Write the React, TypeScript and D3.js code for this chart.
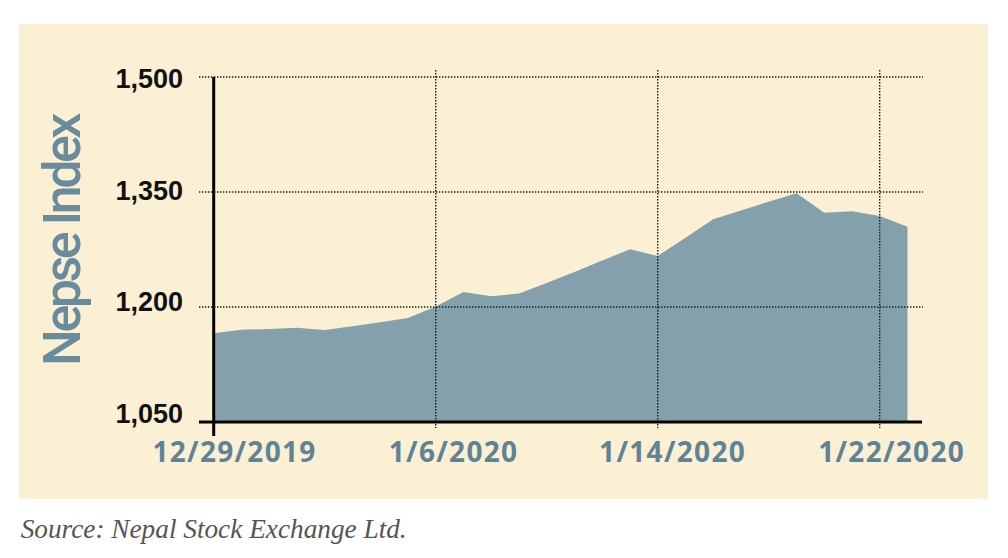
import React from "react";
import * as d3 from "d3";

const dates: string[] = [
  "2019-12-29", "2019-12-30", "2019-12-31", "2020-01-01", "2020-01-02", "2020-01-03",
  "2020-01-04", "2020-01-05", "2020-01-06", "2020-01-07", "2020-01-08", "2020-01-09",
  "2020-01-10", "2020-01-11", "2020-01-12", "2020-01-13", "2020-01-14", "2020-01-15",
  "2020-01-16", "2020-01-17", "2020-01-18", "2020-01-19", "2020-01-20", "2020-01-21",
  "2020-01-22", "2020-01-23",
];
const nepse: number[] = [
  1165.7, 1170.4, 1171.3, 1172.9, 1170.0, 1174.8,
  1180.0, 1185.7, 1200.7, 1219.6, 1214.0, 1217.6,
  1231.3, 1245.7, 1260.7, 1275.3, 1266.5, 1290.3,
  1314.4, 1325.9, 1337.3, 1348.3, 1323.0, 1324.8,
  1318.7, 1304.7,
];
const yTicks: number[] = [1050, 1200, 1350, 1500];
const xTickDates: string[] = ["2019-12-29", "2020-01-06", "2020-01-14", "2020-01-22"];
const xTickLabels: string[] = ["12/29/2019", "1/6/2020", "1/14/2020", "1/22/2020"];

const parse = d3.utcParse("%Y-%m-%d");

export default function App() {
  const W = 1008, H = 558;
  const d0 = parse(xTickDates[0])!;
  const d1 = parse(xTickDates[3])!;
  const x = d3.scaleUtc().domain([d0, d1]).range([213.7, 879.7]);
  const xLab = d3.scaleUtc().domain([d0, d1]).range([234.5, 891.6]);
  const y = d3.scaleLinear().domain([1050, 1500]).range([422, 77]);
  const yLab = d3.scaleLinear().domain([1050, 1500]).range([422.7, 88.3]);

  const data = dates.map((d, i) => ({ date: parse(d)!, v: nepse[i] }));
  const area = d3
    .area<{ date: Date; v: number }>()
    .x((d) => x(d.date))
    .y0(y(1050))
    .y1((d) => y(d.v))(data);

  const gridColor = "#1a1a1a";
  const labelBlue = "#5f8396";

  return (
    <svg
      width={W}
      height={H}
      style={{ position: "absolute", left: 0, top: 0 }}
      xmlns="http://www.w3.org/2000/svg"
    >
      <rect x={0} y={0} width={W} height={H} fill="#ffffff" />
      <rect x={19} y={24} width={969} height={475} fill="#fbf0d3" />

      <path d={area || ""} fill="#84a0ad" />

      {yTicks.slice(1).map((t) => (
        <line
          key={"h" + t}
          x1={199}
          x2={923}
          y1={y(t)}
          y2={y(t)}
          stroke={gridColor}
          strokeWidth={1.4}
          strokeDasharray="1.4 1.6"
        />
      ))}
      {xTickDates.slice(1).map((t) => (
        <line
          key={"v" + t}
          x1={x(parse(t)!)}
          x2={x(parse(t)!)}
          y1={70}
          y2={428}
          stroke={gridColor}
          strokeWidth={1.4}
          strokeDasharray="1.4 1.6"
        />
      ))}

      <line x1={199} x2={922} y1={y(1050)} y2={y(1050)} stroke="#000" strokeWidth={3} />
      <line x1={x(d0)} x2={x(d0)} y1={y(1500)} y2={436} stroke="#000" strokeWidth={3} />

      {yTicks.map((t) => (
        <text
          key={"yl" + t}
          x={183}
          y={yLab(t)}
          textAnchor="end"
          fontFamily="'Liberation Sans', Arial, sans-serif"
          fontWeight={700}
          fontSize={27}
          fill="#111"
        >
          {d3.format(",")(t)}
        </text>
      ))}

      {xTickDates.map((t, i) => (
        <text
          key={"xl" + t}
          x={xLab(parse(t)!)}
          y={461.7}
          textAnchor="middle"
          fontFamily="'Open Sans', 'Noto Sans', sans-serif"
          fontWeight={700}
          fontSize={28}
          letterSpacing={1.3}
          fill={labelBlue}
        >
          {xTickLabels[i]}
        </text>
      ))}

      <text
        transform="translate(79.5,241) rotate(-90)"
        textAnchor="middle"
        fontFamily="Roboto, 'Liberation Sans', sans-serif"
        fontWeight={500}
        fontSize={52}
        letterSpacing={-3.5}
        fill="#688b9e"
      >
        Nepse Index
      </text>

      <text
        x={20.7}
        y={538.3}
        fontFamily="'Liberation Serif', serif"
        fontStyle="italic"
        fontSize={27}
        textLength={386}
        lengthAdjust="spacingAndGlyphs"
        fill="#555"
      >
        Source: Nepal Stock Exchange Ltd.
      </text>
    </svg>
  );
}
